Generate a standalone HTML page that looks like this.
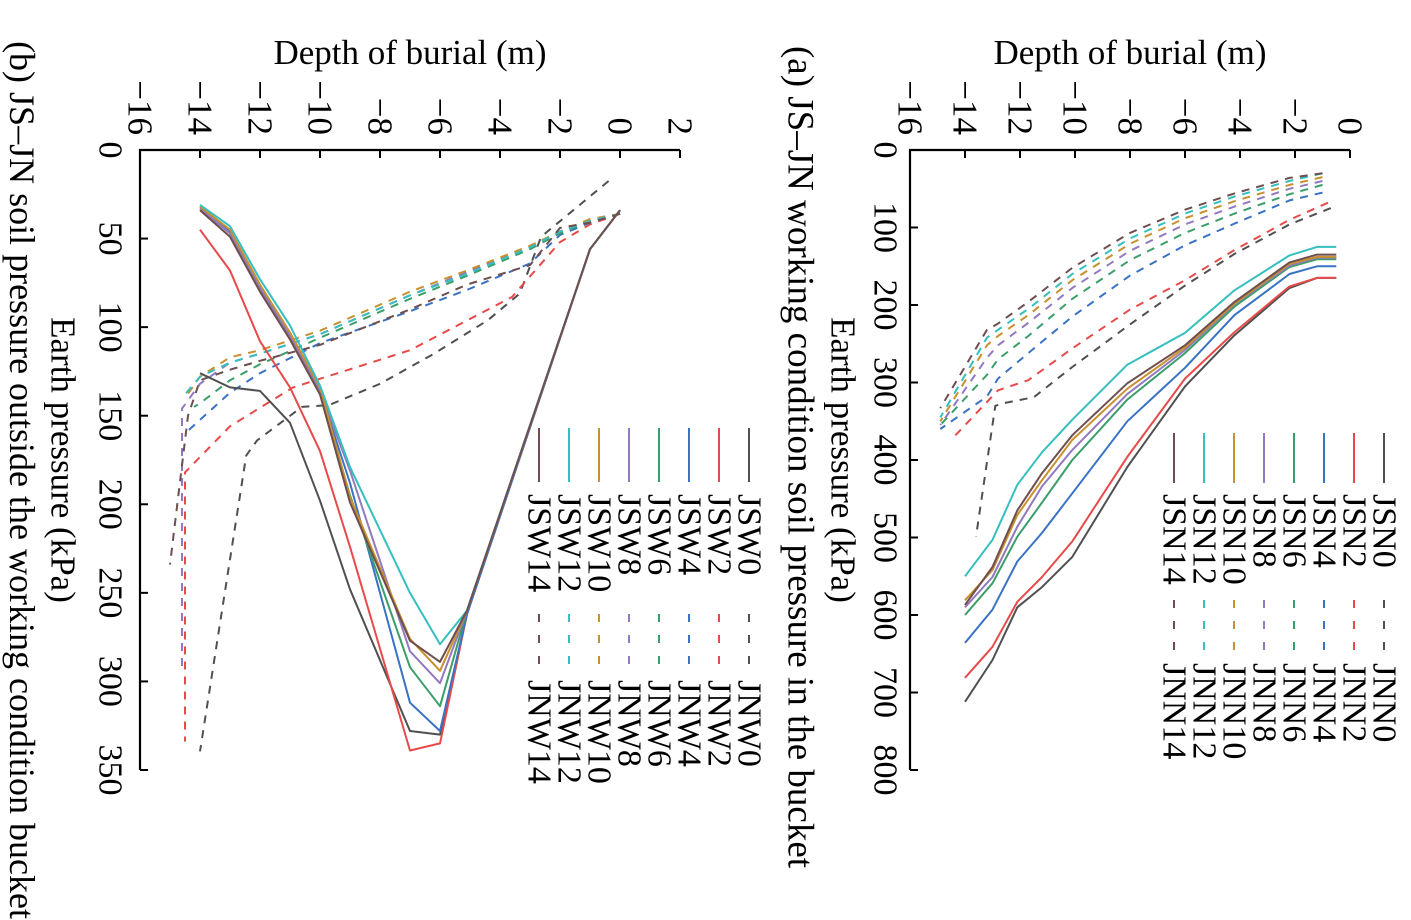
<!DOCTYPE html>
<html><head><meta charset="utf-8"><style>
html,body{margin:0;padding:0;background:#fff;}
svg{display:block;font-family:"Liberation Serif",serif;}
</style></head><body>
<svg id="fig" width="1411" height="920" viewBox="0 0 1411 920" xmlns="http://www.w3.org/2000/svg"></svg>
<script>
// ---------- Chart (a) data ----------
const aSolidDepths = [-0.5,-1.2,-2.2,-4.2,-6,-8.1,-10.1,-11.2,-12.1,-13,-14];
const JSN0  = [165,165,178,239,305,409,525,564,590,658,712];
const JSN2  = [165,165,176,235,295,396,505,551,583,641,681];
const JSN4  = [150,150,160,213,281,350,443,494,531,593,636];
const JSN6  = [141,141,151,202,262,322,400,455,499,559,600];
const JSN8  = [139,139,149,199,258,315,387,434,486,551,590];
const JSN10 = [138,138,147,198,255,308,374,426,471,542,581];
const JSN12 = [125,125,136,181,236,277,348,390,432,503,550];
const JSN14 = [135,135,145,196,252,301,368,417,465,538,587];
const aDashDepths = [-1.0,-2.2,-4.2,-6,-8,-10.1,-11.7,-12.8,-13.2,-14.9];
const JNN4  = [55,65,95,123,162,215,262,295,318,360];
const JNN6  = [45,57,82,107,142,192,240,270,290,355];
const JNN8  = [40,50,73,96,130,178,223,252,268,355];
const JNN10 = [35,45,66,88,121,168,213,240,252,350];
const JNN12 = [30,40,60,82,114,160,205,232,242,345];
const JNN14 = [30,36,56,77,107,152,196,224,232,333];
const JNN2Depths = [-0.8,-2.2,-4.2,-6,-8,-10.1,-11.7,-12.8,-14.4];
const JNN2  = [68,90,129,168,206,256,297,310,370];
const JNN0Depths = [-0.7,-2.2,-4.2,-6,-8,-10.1,-11.5,-12.5,-12.9,-13.6];
const JNN0  = [75,96,134,175,225,280,319,326,330,499];
const aDepthTicks = [0,-2,-4,-6,-8,-10,-12,-14,-16];
const aPressTicks = [0,100,200,300,400,500,600,700,800];

// ---------- Chart (b) data ----------
const bSolidDepths = [-14,-13,-12,-11,-10,-9,-7,-6,-5.1,-1,0];
const JSW0  = [126,134,136,154,198,248,328,330,262,56,34];
const JSW2  = [45,68,108,134,170,224,339,335,262,56,34];
const JSW4  = [32,46,77,104,136,188,312,328,262,56,34];
const JSW6  = [33,47,78,105,137,195,292,314,260,56,34];
const JSW8  = [33,47,78,105,136,181,283,301,260,56,34];
const JSW10 = [32,45,76,103,134,196,276,294,260,56,34];
const JSW12 = [31,43,73,99,133,179,250,279,260,56,34];
const JSW14 = [34,49,80,107,138,199,277,289,260,56,34];
const JNW0Depths = [-0.38,-2.63,-3.34,-4.4,-6.2,-8,-9.7,-10.6,-12.1,-12.46,-14];
const JNW0  = [17.5,49,81,96,115,132,144,145,164,172.5,339.5];
const JNW2Depths = [0,-1,-2,-3.6,-7,-10.9,-13,-14.5,-14.5];
const JNW2  = [36,42,52,83,113,134,156,182,334];
const JNW4Depths = [0,-1,-2,-3,-5.1,-7,-10,-12,-13,-14.5];
const JNW4  = [36,41,48,64,79,91,109,126,137,160];
const JNW6Depths = [0,-1,-2,-3,-5.1,-7,-10,-12,-13,-14,-14.2];
const JNW6  = [36,40,47,56,71,84,106,121,130,143,145];
const JNW8Depths = [0,-1,-2,-3,-5.1,-7,-10,-12,-13,-14,-14.6,-14.6];
const JNW8  = [36,40,46,55,69,82,104,115,120,132,146,292];
const JNW10Depths = [0,-1,-2,-3,-5.1,-7,-10,-12,-13,-14,-14.5];
const JNW10 = [36,39,46,54,68,80,102,113,117,128,140];
const JNW12Depths = [0,-1,-2,-3,-5.1,-7,-10,-12,-13,-14,-14.6];
const JNW12 = [36,40,46,55,70,82,104,115,120,128,140];
const JNW14Depths = [0,-1,-2,-3,-5.1,-7,-10,-12,-13,-14,-14.4,-15];
const JNW14 = [36,41,44,65,76,90,110,119,124,130,150,234];
const bDepthTicks = [2,0,-2,-4,-6,-8,-10,-12,-14,-16];
const bPressTicks = [0,50,100,150,200,250,300,350];

const C = {gray:'#505050',red:'#e84a4a',blue:'#3a72c4',green:'#3a9e68',purple:'#9279c0',orange:'#c8902e',cyan:'#35bfbf',brown:'#6e4e4e'};
const NS='http://www.w3.org/2000/svg';
const svg=document.getElementById('fig');
function mk(tag,attrs,parent){const e=document.createElementNS(NS,tag);for(const k in attrs)e.setAttribute(k,attrs[k]);(parent||svg).appendChild(e);return e;}
function rtext(str,x,y,size,anchor,parent){const t=mk('text',{x:x,y:y,'font-size':size,'text-anchor':anchor,'dominant-baseline':'central',transform:'rotate(90 '+x+' '+y+')',fill:'#000'},parent);t.textContent=str;return t;}

function chart(cfg){
  const g=mk('g',{});
  
  
  const X=d=>cfg.x0+(d-cfg.dMax)*cfg.sx;
  const Y=p=>cfg.y0+p*cfg.sy;
  const left=X(cfg.dMin), right=X(cfg.dMax), bottom=Y(cfg.pMax);
  const ax=mk('path',{d:`M${right},${cfg.y0}H${left}V${bottom}`,fill:'none',stroke:'#000','stroke-width':2.2},g);
  
  
  cfg.dTicks.forEach(d=>{
    const tk=mk('line',{x1:X(d),x2:X(d),y1:cfg.y0,y2:cfg.y0+8,stroke:'#000','stroke-width':2},g);
    
    
    const lb=rtext(String(d).replace('-','\u2212'),X(d),135,35,'end',g);
    
    
  });
  cfg.pTicks.forEach(p=>{
    const tk=mk('line',{x1:left,x2:left+8,y1:Y(p),y2:Y(p),stroke:'#000','stroke-width':2},g);
    
    
    const lb=rtext(String(p),cfg.ptx,Y(p),34,'middle',g);
    
    
  });
  const t1=mk('text',{x:(left+X(cfg.dTitleAt))/2,y:64,'font-size':35,'text-anchor':'middle',fill:'#000'},g);
  t1.textContent='Depth of burial (m)';
  
  
  const t2=rtext('Earth pressure (kPa)',cfg.ttx,460,35,'middle',g);
  
  
  const t3=rtext(cfg.caption,cfg.capx,cfg.capy,cfg.capSize,'middle',g);
  
  
  cfg.series.forEach((s,i)=>{
    const pts=s.d.map((d,k)=>X(d).toFixed(1)+','+Y(s.p[k]).toFixed(1)).join(' ');
    const pl=mk('polyline',{points:pts,fill:'none',stroke:s.c,'stroke-width':2,'stroke-linejoin':'round'},g);
    if(s.dash)pl.setAttribute('stroke-dasharray','8,7');
    
    
  });
  const L=cfg.legend;
  L.solid.forEach((s,i)=>{
    const lx=L.x0-i*30;
    const a=mk('line',{x1:lx,x2:lx,y1:L.s1,y2:L.s2,stroke:s.c,'stroke-width':2},g);
    
    
    const t=rtext(s.n,lx,L.st,34,'start',g);
    
    
  });
  L.dash.forEach((s,i)=>{
    const lx=L.x0-i*30;
    const a=mk('line',{x1:lx,x2:lx,y1:L.d1,y2:L.d2,stroke:s.c,'stroke-width':2,'stroke-dasharray':'8,13'},g);
    
    
    const t=rtext(s.n,lx,L.dt,34,'start',g);
    
    
  });
}

const cols=[C.gray,C.red,C.blue,C.green,C.purple,C.orange,C.cyan,C.brown];
const aSolid=[JSN0,JSN2,JSN4,JSN6,JSN8,JSN10,JSN12,JSN14].map((p,i)=>({n:'JSN'+(i*2),d:aSolidDepths,p:p,c:cols[i]}));
const aDash=[[JNN0Depths,JNN0],[JNN2Depths,JNN2],[aDashDepths,JNN4],[aDashDepths,JNN6],[aDashDepths,JNN8],[aDashDepths,JNN10],[aDashDepths,JNN12],[aDashDepths,JNN14]].map((v,i)=>({n:'JNN'+(i*2),d:v[0],p:v[1],c:cols[i],dash:true}));
chart({name:'chart-a',x0:1350,dMax:0,dMin:-16,sx:27.5,y0:150,sy:0.775,pMax:800,dTicks:aDepthTicks,pTicks:aPressTicks,dTitleAt:0,
  ptx:885,ttx:843,capx:800,capy:457,capSize:37,caption:'(a) JS\u2013JN working condition soil pressure in the bucket',
  series:aDash.concat(aSolid),
  legend:{x0:1384,s1:433,s2:483,st:494,d1:600,d2:660,dt:663,solid:aSolid,dash:aDash}});

const bSolid=[JSW0,JSW2,JSW4,JSW6,JSW8,JSW10,JSW12,JSW14].map((p,i)=>({n:'JSW'+(i*2),d:bSolidDepths,p:p,c:cols[i]}));
const bDash=[[JNW0Depths,JNW0],[JNW2Depths,JNW2],[JNW4Depths,JNW4],[JNW6Depths,JNW6],[JNW8Depths,JNW8],[JNW10Depths,JNW10],[JNW12Depths,JNW12],[JNW14Depths,JNW14]].map((v,i)=>({n:'JNW'+(i*2),d:v[0],p:v[1],c:cols[i],dash:true}));
chart({name:'chart-b',x0:680,dMax:2,dMin:-16,sx:30,y0:150,sy:1.7714,pMax:350,dTicks:bDepthTicks,pTicks:bPressTicks,dTitleAt:2,
  ptx:110,ttx:63,capx:22,capy:480,capSize:36,caption:'(b) JS\u2013JN soil pressure outside the working condition bucket',
  series:bDash.concat(bSolid),
  legend:{x0:749,s1:428,s2:482,st:494,d1:614,d2:670,dt:680,solid:bSolid,dash:bDash}});
</script>
</body></html>
